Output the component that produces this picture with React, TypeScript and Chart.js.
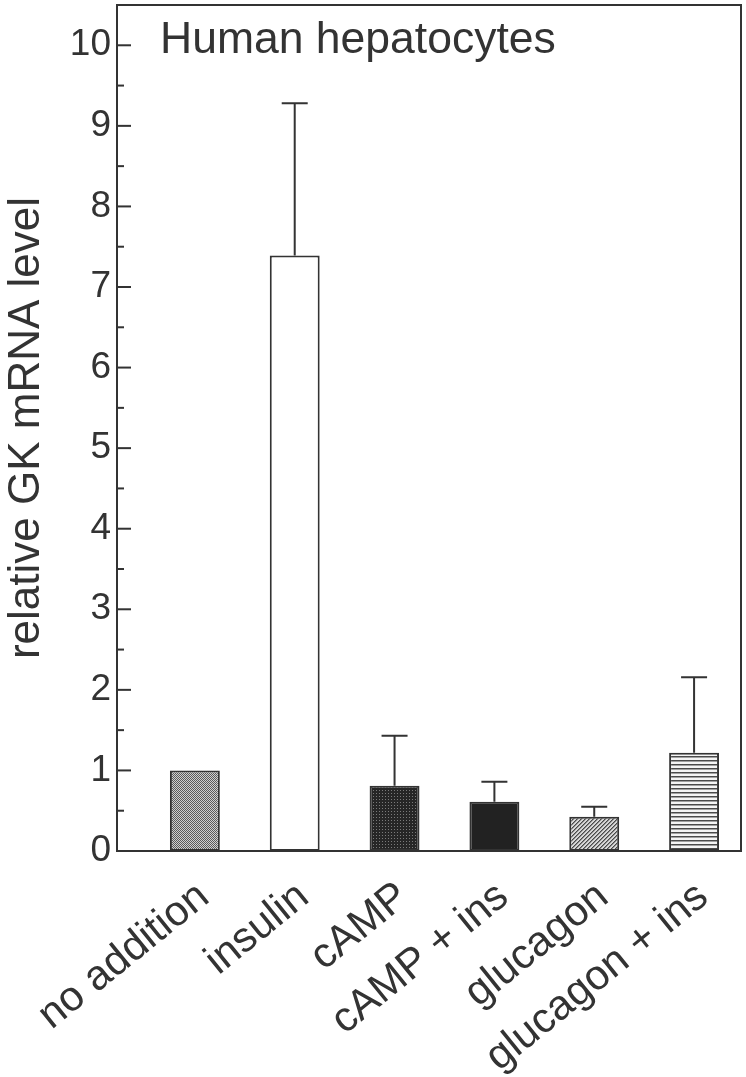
import React, { useEffect, useRef } from 'react';
import { Chart, registerables } from 'chart.js';

Chart.register(...registerables);

const CATEGORIES = ['no addition', 'insulin', 'cAMP', 'cAMP + ins', 'glucagon', 'glucagon + ins'];
const VALUES = [1.0, 7.39, 0.81, 0.61, 0.425, 1.22];
const ERRORS = [0, 1.89, 0.62, 0.25, 0.125, 0.935];
const Y_TICKS = [0, 1, 2, 3, 4, 5, 6, 7, 8, 9, 10];
const TITLE = 'Human hepatocytes';
const Y_TITLE = 'relative GK mRNA level';

const INK = '#333333';
const FONT = "'Liberation Sans', Arial, Helvetica, sans-serif";

function makePattern(w: number, h: number, draw: (g: CanvasRenderingContext2D) => void) {
  const c = document.createElement('canvas');
  c.width = w;
  c.height = h;
  const g = c.getContext('2d') as CanvasRenderingContext2D;
  draw(g);
  return g.createPattern(c, 'repeat') as CanvasPattern;
}

function buildFills() {
  const checker = makePattern(2, 2, (g) => {
    g.fillStyle = '#cfcfcf';
    g.fillRect(0, 0, 2, 2);
    g.fillStyle = '#5a5a5a';
    g.fillRect(0, 0, 1, 1);
    g.fillRect(1, 1, 1, 1);
  });
  const darkDots = makePattern(3, 3, (g) => {
    g.fillStyle = '#262626';
    g.fillRect(0, 0, 3, 3);
    g.fillStyle = '#7a7a7a';
    g.fillRect(1, 1, 1, 1);
  });
  const diag = makePattern(4, 4, (g) => {
    g.fillStyle = '#d6d6d6';
    g.fillRect(0, 0, 4, 4);
    g.fillStyle = '#4a4a4a';
    for (let i = 0; i < 4; i++) {
      g.fillRect(i, 3 - i, 1, 1);
    }
    g.fillStyle = '#8a8a8a';
    for (let i = 0; i < 4; i++) {
      g.fillRect((i + 1) % 4, 3 - i, 1, 1);
    }
  });
  const horiz = makePattern(4, 4, (g) => {
    g.fillStyle = '#f4f4f4';
    g.fillRect(0, 0, 4, 4);
    g.fillStyle = '#4a4a4a';
    g.fillRect(0, 0, 4, 1);
    g.fillStyle = '#a0a0a0';
    g.fillRect(0, 1, 4, 1);
  });
  return [checker, '#ffffff', darkDots, '#222222', diag, horiz];
}

const decorPlugin = {
  id: 'decor',
  afterDraw(chart: any) {
    const { ctx, chartArea } = chart;
    const xs = chart.scales.x;
    const ys = chart.scales.y;
    ctx.save();
    ctx.strokeStyle = INK;
    ctx.lineWidth = 2;
    Y_TICKS.forEach((v, i) => {
      const y = ys.getPixelForValue(v);
      ctx.beginPath();
      ctx.moveTo(chartArea.left, y);
      ctx.lineTo(chartArea.left + 14, y);
      ctx.stroke();
      if (i < Y_TICKS.length - 1) {
        const ym = ys.getPixelForValue((v + Y_TICKS[i + 1]) / 2);
        ctx.beginPath();
        ctx.moveTo(chartArea.left, ym);
        ctx.lineTo(chartArea.left + 7, ym);
        ctx.stroke();
      }
    });
    VALUES.forEach((v, i) => {
      const e = ERRORS[i];
      if (!e) return;
      const x = xs.getPixelForValue(i);
      const y0 = ys.getPixelForValue(v);
      const y1 = ys.getPixelForValue(v + e);
      ctx.beginPath();
      ctx.moveTo(x, y0);
      ctx.lineTo(x, y1);
      ctx.moveTo(x - 13, y1);
      ctx.lineTo(x + 13, y1);
      ctx.stroke();
    });
    ctx.strokeRect(chartArea.left, chartArea.top, chartArea.right - chartArea.left, chartArea.bottom - chartArea.top);
    ctx.fillStyle = INK;
    ctx.font = `44.5px ${FONT}`;
    ctx.textAlign = 'left';
    ctx.textBaseline = 'alphabetic';
    ctx.fillText(TITLE, chartArea.left + 43, chartArea.top + 48);
    ctx.restore();
  },
};

export default function App() {
  const ref = useRef<HTMLCanvasElement | null>(null);

  useEffect(() => {
    document.body.style.margin = '0';
    document.body.style.background = '#ffffff';
    const canvas = ref.current;
    if (!canvas) return;
    const fills = buildFills();
    const chart = new Chart(canvas, {
      type: 'bar',
      data: {
        datasets: [
          {
            data: VALUES.map((v, i) => ({ x: i, y: v })),
            backgroundColor: fills as any,
            borderColor: INK,
            borderWidth: 2,
            borderSkipped: false,
            barPercentage: 0.5,
            categoryPercentage: 1,
          },
        ],
      },
      options: {
        animation: false,
        responsive: false,
        devicePixelRatio: 1,
        layout: { padding: { top: 5, right: 5, left: 0, bottom: 0 } },
        plugins: { legend: { display: false }, tooltip: { enabled: false }, title: { display: false } },
        scales: {
          x: {
            type: 'linear',
            offset: false,
            min: -0.78,
            max: 5.47,
            grid: { display: false, drawTicks: false, offset: false },
            border: { display: false },
            afterBuildTicks: (scale: any) => {
              scale.ticks = CATEGORIES.map((_, i) => ({ value: i }));
            },
            afterFit: (scale: any) => {
              scale.height = 226;
              scale.paddingLeft = 0;
              scale.paddingRight = 0;
            },
            ticks: {
              autoSkip: false,
              minRotation: 39,
              maxRotation: 39,
              padding: 21,
              labelOffset: 9,
              color: INK,
              font: { family: FONT, size: 42 },
              callback: (v: any) => CATEGORIES[Number(v)] ?? '',
            },
          },
          y: {
            type: 'linear',
            min: 0,
            max: 10.5,
            grid: { display: false, drawTicks: false },
            border: { display: false },
            afterBuildTicks: (scale: any) => {
              scale.ticks = Y_TICKS.map((v) => ({ value: v }));
            },
            afterFit: (scale: any) => {
              scale.width = 117;
              scale.paddingTop = 0;
              scale.paddingBottom = 0;
            },
            ticks: {
              padding: 6,
              color: INK,
              font: { family: FONT, size: 37 },
              callback: (v: any) => String(v),
            },
            title: {
              display: true,
              text: Y_TITLE,
              color: INK,
              padding: { top: 0, bottom: 0 },
              font: { family: FONT, size: 44, lineHeight: 1.2 },
            },
          },
        },
      },
      plugins: [decorPlugin],
    });
    return () => chart.destroy();
  }, []);

  return (
    <div style={{ width: 746, height: 1077 }}>
      <canvas ref={ref} width={746} height={1077} style={{ display: 'block', width: 746, height: 1077 }} />
    </div>
  );
}
